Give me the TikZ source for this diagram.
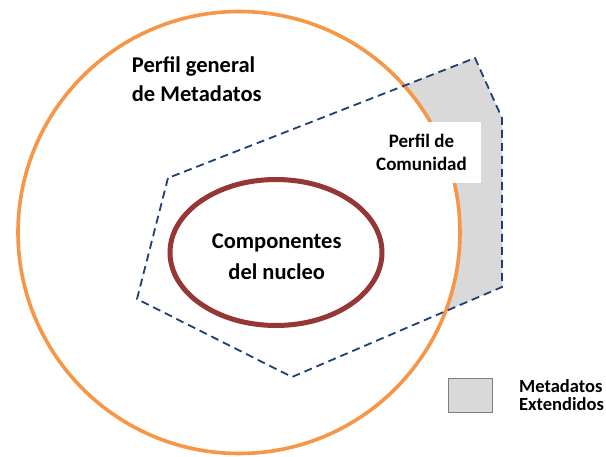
\documentclass[tikz,border=0pt]{standalone}
\usepackage{fontspec}
\setmainfont{Carlito}
\definecolor{orangeC}{HTML}{F79646}
\definecolor{redE}{HTML}{953735}
\definecolor{navyD}{HTML}{1F3F75}
\definecolor{grayF}{HTML}{D9D9D9}
\definecolor{grayB}{HTML}{7F7F7F}
\tikzset{
  lbl/.style={inner sep=0pt, font=\bfseries, text=black},
  dashpoly/.style={draw=navyD, line width=1.8pt, dash pattern=on 8pt off 5pt},
}
\begin{document}
\begin{tikzpicture}[x=1pt,y=-1pt]
\useasboundingbox[fill=white] (0,0) rectangle (606,457);
% polygon vertices
\coordinate (pA) at (168,178);
\coordinate (pB) at (137,299);
\coordinate (pC) at (292,377);
\coordinate (pD) at (502,287);
\coordinate (pE) at (502,118);
\coordinate (pF) at (475,58);
\coordinate (cc) at (239,232.5);
% gray area: polygon outside circle
\fill[grayF] (pA) -- (pB) -- (pC) -- (pD) -- (pE) -- (pF) -- cycle;
\fill[white] (cc) circle[radius=221];
% big circle
\draw[orangeC, line width=3.6pt] (cc) circle[radius=221];
% dashed polygon
\draw[dashpoly] (pA) -- (pB) -- (pC) -- (pD) -- (pE) -- (pF) -- cycle;
% white box behind community label
\node[fill=white, minimum width=113pt, minimum height=61pt, inner sep=0pt] (box) at (424.5,152.5) {};
% core ellipse
\draw[redE, line width=5pt] (276,252.5) ellipse[x radius=106, y radius=73];
% labels
\node[lbl, anchor=base west, align=left, font=\bfseries\fontsize{22.5}{28.7}\selectfont] (gen) at (131.7,101.7) {Perfil general\\de Metadatos};
\node[lbl, anchor=base, align=center, font=\bfseries\fontsize{22.5}{31}\selectfont] (core) at (276.7,280) {Componentes\\del nucleo};
\node[lbl, anchor=base, align=center, font=\bfseries\fontsize{19}{23.3}\selectfont] (com) at (421.5,171) {Perfil de\\Comunidad};
% legend
\node[draw=grayB, fill=grayF, line width=0.8pt, minimum width=44pt, minimum height=34pt, inner sep=0pt] (leg) at (470,395) {};
\node[lbl, anchor=base west, align=left, font=\bfseries\fontsize{18.5}{18}\selectfont] (legt) at (519,410.7) {Metadatos\\Extendidos};
\end{tikzpicture}
\end{document}
